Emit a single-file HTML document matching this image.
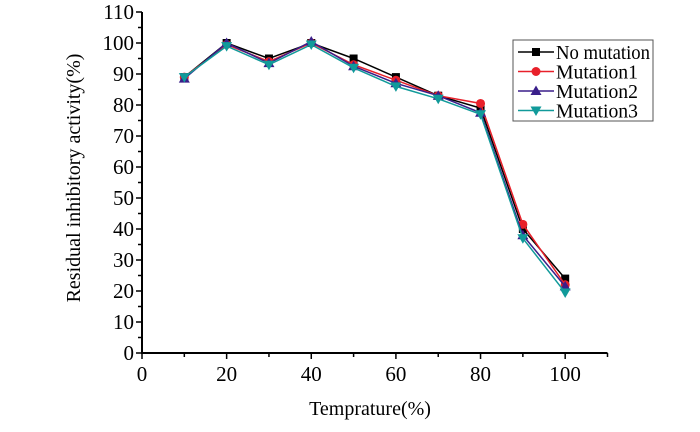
<!DOCTYPE html>
<html><head><meta charset="utf-8"><style>
html,body{margin:0;padding:0;background:#fff;}
svg text{font-family:"Liberation Serif",serif;fill:#000;}
</style></head><body>
<svg id="c" width="700" height="427" viewBox="0 0 700 427"></svg>
<script>
const xs=[10,20,30,40,50,60,70,80,90,100];
const noMut=[89,100,95,100,95,89,83,79,40,24];
const mut1=[89,99.5,94,100,93,88,83,80.5,41.5,22];
const mut2=[88.5,100,93.5,100.5,92.5,87,83,77.5,38,21.5];
const mut3=[89,99,93,99.5,92,86,82,77,37,19.5];
const xTicks=[0,20,40,60,80,100];
const yTicks=[0,10,20,30,40,50,60,70,80,90,100,110];
const names=["No mutation","Mutation1","Mutation2","Mutation3"];

const svg=document.getElementById('c');const NS='http://www.w3.org/2000/svg';
const X0=142,X1=607.5,Y0=353,Y1=12;
const sx=v=>X0+(v/110)*(X1-X0), sy=v=>Y0-(v/110)*(Y0-Y1);
function mk(t,a,p){const e=document.createElementNS(NS,t);for(const k in a)e.setAttribute(k,a[k]);(p||svg).appendChild(e);return e;}
let ax=mk('path',{d:`M${X0},${Y1}V${Y0}H${X1}`,stroke:'#000','stroke-width':2,fill:'none'});


for(let v=0;v<=110;v+=5){const y=sy(v);const maj=v%10===0;
 const t=mk('line',{x1:X0-(maj?6:4),x2:X0,y1:y,y2:y,stroke:'#000','stroke-width':1.5});
 
 }
yTicks.forEach(v=>{const t=mk('text',{x:X0-8,y:sy(v)+7,'text-anchor':'end','font-size':21});t.textContent=v;
 
 });
for(let v=0;v<=110;v+=10){const x=sx(v);
 const t=mk('line',{x1:x,x2:x,y1:Y0,y2:Y0+(v%20===0?6:4),stroke:'#000','stroke-width':1.5});
 
 }
xTicks.forEach(v=>{const t=mk('text',{x:sx(v),y:Y0+28,'text-anchor':'middle','font-size':21});t.textContent=v;
 
 });
let xt=mk('text',{x:370,y:415,'text-anchor':'middle','font-size':20});xt.textContent='Temprature(%)';


let yt=mk('text',{x:0,y:0,transform:'translate(80,178) rotate(-90)','text-anchor':'middle','font-size':20});yt.textContent='Residual inhibitory activity(%)';



const series=[noMut,mut1,mut2,mut3];
const colors=['#000','#e8202a','#3a1f8a','#119a9a'];
function marker(i,x,y,g){const c=colors[i];
 if(i===0)return mk('rect',{x:x-4,y:y-4,width:8,height:8,fill:c},g);
 if(i===1)return mk('circle',{cx:x,cy:y,r:4.5,fill:c},g);
 if(i===2)return mk('path',{d:`M${x},${y-5.5}L${x+5.5},${y+4}L${x-5.5},${y+4}Z`,fill:c},g);
 return mk('path',{d:`M${x},${y+5.5}L${x+5.5},${y-4}L${x-5.5},${y-4}Z`,fill:c},g);}
series.forEach((s,i)=>{const g=mk('g',{});
 
 
 mk('polyline',{points:s.map((v,j)=>sx(xs[j])+','+sy(v)).join(' '),fill:'none',stroke:colors[i],'stroke-width':1.5},g);
 s.forEach((v,j)=>{const m=marker(i,sx(xs[j]),sy(v),g);
  
  });});

const lg=mk('g',{});


mk('rect',{x:513,y:40,width:140,height:81,fill:'#fff',stroke:'#555','stroke-width':1},lg);
names.forEach((n,i)=>{const y=52+i*19.5;const e=mk('g',{},lg);
 
 
 mk('line',{x1:518,x2:554,y1:y,y2:y,stroke:colors[i],'stroke-width':1.5},e);
 marker(i,536,y,e);
 const t=mk('text',{x:556,y:y+7,'font-size':20,textLength:n.length>10?94:82,lengthAdjust:'spacingAndGlyphs'},e);t.textContent=n;});
</script>
</body></html>
